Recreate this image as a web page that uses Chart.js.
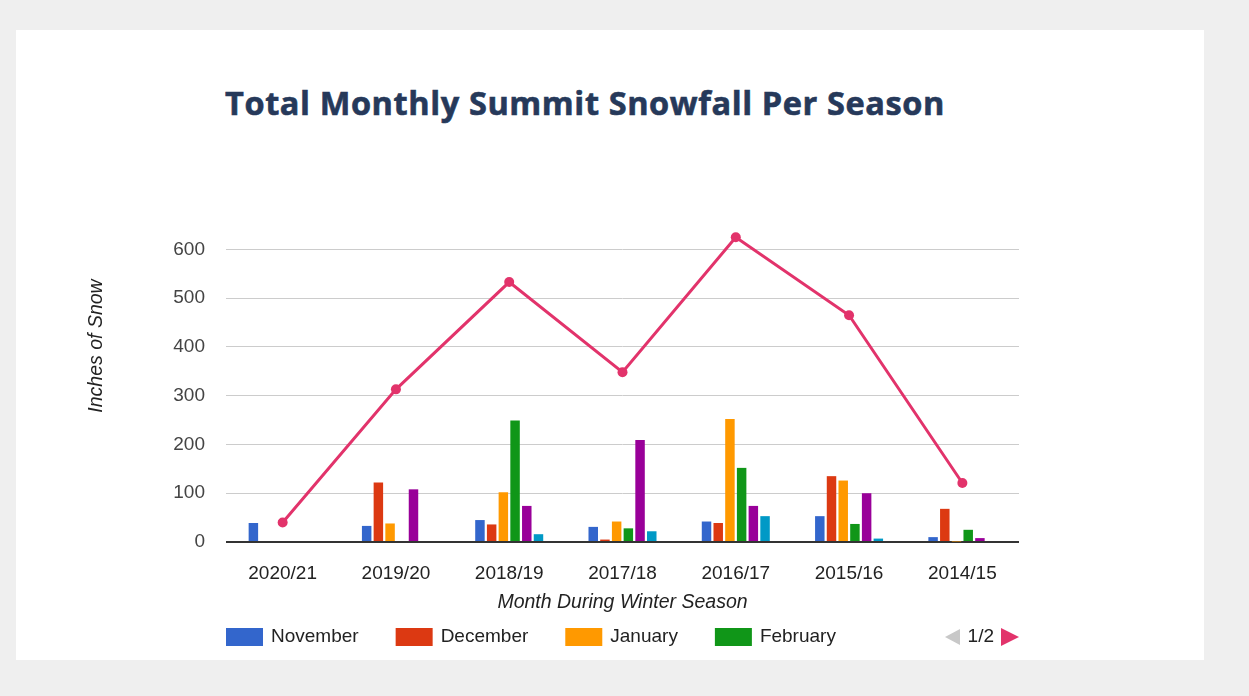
<!DOCTYPE html>
<html>
<head>
<meta charset="utf-8">
<title>Total Monthly Summit Snowfall Per Season</title>
<script src="https://cdn.jsdelivr.net/npm/chart.js@4.4.1/dist/chart.umd.min.js"></script>
<style>
  html, body { margin: 0; padding: 0; }
  body { width: 1249px; height: 696px; background: #efefef; position: relative; overflow: hidden; }
  .card { position: absolute; left: 16px; top: 30px; width: 1188px; height: 630px; background: #fff; }
  h1 { position: absolute; left: 225px; top: 80px; margin: 0; font: 700 32.5px "Open Sans", sans-serif; letter-spacing: 0.6px; -webkit-text-stroke: 0.6px #26395a; color: #26395a; white-space: nowrap; }
  #wrap { position: absolute; left: 0; top: 0; width: 1249px; height: 696px; }
</style>
</head>
<body>
<div class="card"></div>
<h1>Total Monthly Summit Snowfall Per Season</h1>
<div id="wrap"><canvas id="chartSnow" width="1249" height="696"></canvas></div>
<script>
// seasons, newest first
const seasons = ['2020/21', '2019/20', '2018/19', '2017/18', '2016/17', '2015/16', '2014/15'];

// inches of snow per month
const november = [39, 33, 45, 31, 42, 53, 10];
const december = [0, 122, 36, 5, 39, 135, 68];
const january  = [0, 38, 102, 42, 252, 126, 1];
const february = [0, 2, 249, 28, 152, 37, 25];
const march    = [0, 108, 74, 209, 74, 100, 8];
const april    = [0, 0, 16, 22, 53, 7, 0];
const seasonTotal = [40, 313, 533, 348, 625, 465, 121];

const monthNames = ['November', 'December', 'January', 'February', 'March', 'April'];
const monthColors = ['#3366cc', '#dc3912', '#ff9900', '#109618', '#990099', '#0099c6'];
const yTicks = [0, 100, 200, 300, 400, 500, 600];

const xTitle = 'Month During Winter Season';
const yTitle = 'Inches of Snow';
const legendPage = '1/2';
const legendPageSize = 4;

const FONT = '"Liberation Sans", Arial, sans-serif';
const lineColor = '#e2336b';

const monthSeries = [november, december, january, february, march, april];

const datasets = monthSeries.map((vals, i) => ({
  type: 'bar',
  label: monthNames[i],
  data: vals,
  backgroundColor: monthColors[i],
  categoryPercentage: 0.62,
  barPercentage: 0.81,
  order: 1
}));
datasets.push({
  type: 'line',
  label: 'Total',
  data: seasonTotal,
  borderColor: lineColor,
  backgroundColor: lineColor,
  borderWidth: 3,
  pointRadius: 5,
  pointBorderWidth: 0,
  tension: 0,
  clip: false,
  order: 0
});

// axis titles, paged legend and pager arrows
const snowExtras = {
  id: 'snowExtras',
  afterDraw(chart) {
    const { ctx, chartArea: a } = chart;
    ctx.save();
    ctx.fillStyle = '#222';
    ctx.textBaseline = 'middle';

    ctx.font = 'italic 19.5px ' + FONT;
    ctx.textAlign = 'center';
    ctx.fillText(xTitle, (a.left + a.right) / 2, a.bottom + 61);
    ctx.save();
    ctx.translate(a.left - 129, a.top + 121);
    ctx.rotate(-Math.PI / 2);
    ctx.fillText(yTitle, 0, 0);
    ctx.restore();

    // legend, first page only
    const ly = a.bottom + 95;
    ctx.font = '19px ' + FONT;
    ctx.textAlign = 'left';
    let x = a.left;
    chart.data.datasets.slice(0, legendPageSize).forEach(ds => {
      ctx.fillStyle = ds.backgroundColor;
      ctx.fillRect(x, ly - 9, 37, 18);
      ctx.fillStyle = '#222';
      ctx.fillText(ds.label, x + 45, ly);
      x += 45 + ctx.measureText(ds.label).width + 37;
    });

    // pager
    const r = a.right;
    ctx.fillStyle = lineColor;
    ctx.beginPath();
    ctx.moveTo(r - 18, ly - 9);
    ctx.lineTo(r, ly);
    ctx.lineTo(r - 18, ly + 9);
    ctx.closePath();
    ctx.fill();
    ctx.fillStyle = '#222';
    ctx.textAlign = 'right';
    ctx.fillText(legendPage, r - 25, ly);
    ctx.fillStyle = '#c8c8c8';
    ctx.beginPath();
    ctx.moveTo(r - 59, ly - 8);
    ctx.lineTo(r - 74, ly);
    ctx.lineTo(r - 59, ly + 8);
    ctx.closePath();
    ctx.fill();
    ctx.restore();
  }
};

new Chart(document.getElementById('chartSnow').getContext('2d'), {
  type: 'bar',
  data: { labels: seasons, datasets },
  options: {
    responsive: false,
    animation: false,
    layout: { padding: { left: 0, right: 230, top: 225, bottom: 0 } },
    plugins: { legend: { display: false }, tooltip: { enabled: false } },
    scales: {
      x: {
        afterFit: s => { s.height = 154; },
        grid: { display: false },
        border: { display: false },
        ticks: { padding: 12, color: '#222', font: { family: FONT, size: 19 } }
      },
      y: {
        min: 0,
        max: 650,
        afterBuildTicks: s => { s.ticks = yTicks.map(v => ({ value: v })); },
        afterFit: s => { s.width = 226; },
        border: { display: false },
        grid: {
          drawTicks: false,
          color: c => (c.tick && c.tick.value === 0 ? '#333' : '#cccccc'),
          lineWidth: c => (c.tick && c.tick.value === 0 ? 2 : 1)
        },
        ticks: { padding: 21, color: '#444', font: { family: FONT, size: 19 } }
      }
    }
  },
  plugins: [snowExtras]
});
</script>
</body>
</html>
